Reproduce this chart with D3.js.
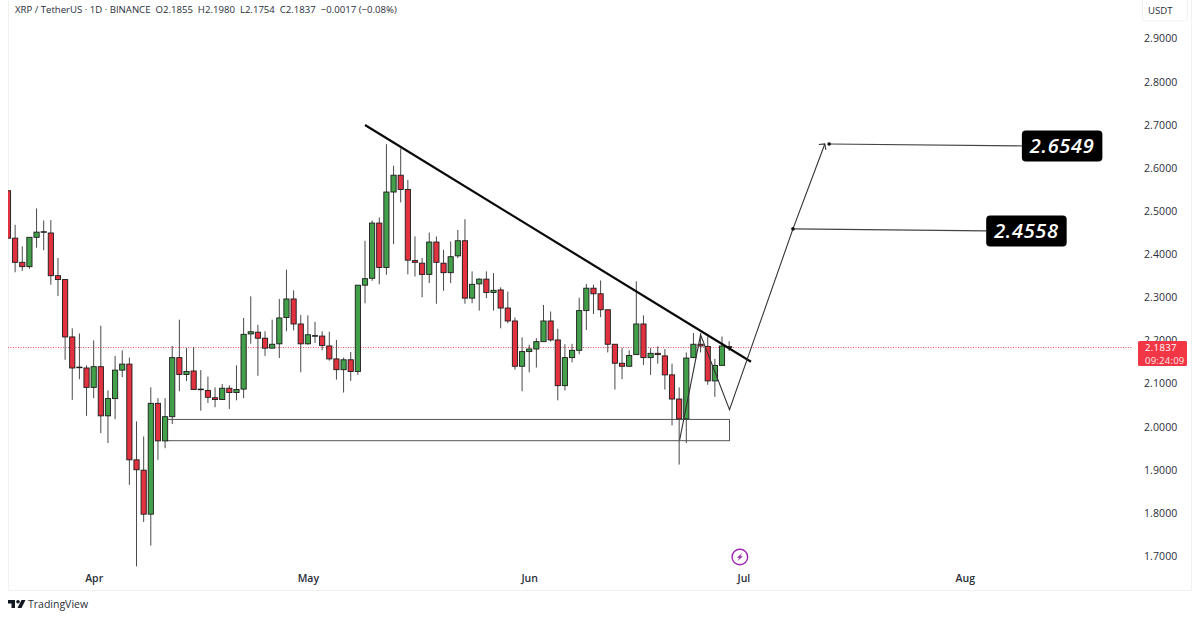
<!DOCTYPE html>
<html><head><meta charset="utf-8">
<script src="https://cdn.jsdelivr.net/npm/d3@7/dist/d3.min.js"></script>
<style>html,body{margin:0;padding:0;background:#fff}svg{display:block}text{font-family:"Open Sans",sans-serif}</style>
</head><body><svg id="c" width="1200" height="619"></svg>
<script>
const startDate = Date.UTC(2025,2,20);
const opens  = [2.547,2.437,2.381,2.371,2.439,2.451,2.449,2.350,2.341,2.208,2.138,2.136,2.091,2.139,2.025,2.065,2.131,2.145,1.923,1.899,1.797,2.054,1.967,2.023,2.160,2.121,2.129,2.086,2.084,2.067,2.063,2.089,2.079,2.087,2.215,2.219,2.205,2.182,2.192,2.253,2.296,2.238,2.192,2.211,2.210,2.187,2.157,2.132,2.155,2.128,2.328,2.344,2.472,2.369,2.544,2.583,2.550,2.385,2.379,2.353,2.428,2.379,2.357,2.396,2.431,2.298,2.331,2.342,2.311,2.317,2.275,2.245,2.140,2.174,2.180,2.197,2.245,2.201,2.095,2.160,2.177,2.269,2.321,2.308,2.271,2.191,2.147,2.140,2.167,2.238,2.160,2.170,2.164,2.120,2.064,2.018,2.160,2.191,2.186,2.106,2.142,2.1855];
const closes = [2.437,2.381,2.371,2.439,2.451,2.452,2.350,2.341,2.208,2.136,2.137,2.091,2.139,2.025,2.065,2.131,2.145,1.923,1.900,1.797,2.054,1.967,2.023,2.160,2.121,2.128,2.086,2.087,2.068,2.063,2.089,2.079,2.086,2.214,2.220,2.205,2.182,2.191,2.252,2.296,2.238,2.192,2.213,2.211,2.188,2.157,2.132,2.155,2.128,2.328,2.343,2.472,2.369,2.544,2.583,2.550,2.386,2.381,2.353,2.428,2.381,2.357,2.394,2.431,2.298,2.330,2.342,2.311,2.316,2.275,2.245,2.140,2.174,2.180,2.197,2.245,2.201,2.095,2.160,2.177,2.269,2.321,2.308,2.271,2.191,2.147,2.140,2.165,2.238,2.160,2.170,2.167,2.120,2.064,2.018,2.159,2.191,2.187,2.106,2.142,2.187,2.1837];
const highs  = [2.547,2.468,2.418,2.439,2.506,2.478,2.479,2.391,2.341,2.228,2.216,2.142,2.200,2.234,2.084,2.164,2.177,2.160,2.012,1.977,2.091,2.066,2.066,2.187,2.248,2.182,2.185,2.131,2.116,2.091,2.099,2.096,2.142,2.252,2.302,2.236,2.221,2.248,2.296,2.364,2.316,2.259,2.258,2.243,2.221,2.220,2.201,2.160,2.173,2.328,2.431,2.478,2.485,2.655,2.605,2.645,2.572,2.441,2.391,2.450,2.441,2.410,2.429,2.456,2.481,2.360,2.344,2.360,2.356,2.323,2.313,2.253,2.207,2.190,2.205,2.282,2.267,2.227,2.191,2.192,2.299,2.331,2.329,2.339,2.271,2.191,2.182,2.177,2.337,2.258,2.182,2.186,2.180,2.146,2.091,2.172,2.217,2.217,2.209,2.157,2.209,2.198];
const lows   = [2.437,2.358,2.361,2.366,2.415,2.409,2.329,2.303,2.155,2.062,2.110,2.025,2.066,1.985,1.962,2.017,2.115,1.865,1.676,1.779,1.724,1.923,1.950,2.006,2.082,2.106,2.086,2.037,2.055,2.045,2.062,2.041,2.061,2.066,2.192,2.118,2.164,2.182,2.159,2.221,2.223,2.126,2.190,2.194,2.177,2.153,2.109,2.079,2.106,2.120,2.286,2.338,2.330,2.352,2.423,2.520,2.353,2.348,2.300,2.333,2.285,2.315,2.333,2.391,2.285,2.286,2.269,2.298,2.269,2.228,2.240,2.132,2.082,2.126,2.137,2.197,2.197,2.061,2.084,2.149,2.168,2.224,2.261,2.254,2.172,2.086,2.110,2.140,2.167,2.143,2.120,2.146,2.086,2.003,1.912,1.962,2.159,2.172,2.097,2.069,2.142,2.1754];
const priceTicks = [1.7,1.8,1.9,2.0,2.1,2.2,2.3,2.4,2.5,2.6,2.7,2.8,2.9];
const monthLabels = ["Apr","May","Jun","Jul","Aug"];
const monthDates = [Date.UTC(2025,3,1),Date.UTC(2025,4,1),Date.UTC(2025,5,1),Date.UTC(2025,6,1),Date.UTC(2025,7,1)];
const headerText = "XRP / TetherUS · 1D · BINANCE  O2.1855  H2.1980  L2.1754  C2.1837  −0.0017 (−0.08%)";
const lastPrice = 2.1837, countdown = "09:24:09", currency = "USDT";
// drawings: [day index from startDate, price]
const trendLine = [[50.0,2.6995],[104.06,2.1503]];
const projection = [[94.07,1.9695],[97.0,2.2129],[101.05,2.0391],[109.94,2.4585],[114.4,2.6555]];
const zone = {from:22.2,to:101.05,top:2.0167,bottom:1.9674};
const targets = [
  {label:"2.6549",a:[115.0,2.6555],b:[142.0,2.6510]},
  {label:"2.4558",a:[109.94,2.4585],b:[137.0,2.4539]}
];
const day = i => new Date(startDate + i*864e5);

const svg = d3.select("#c");
const x = d3.scaleUtc().domain([day(0),day(134)]).range([8,8+7.14*134]);
const y = d3.scaleLinear().domain([1.7,2.9]).range([556,38.5]);
const px = p => x(day(p[0])), py = p => y(p[1]);

// frame
svg.append("path").attr("d","M8.5,0V590.5H1191.5V0").attr("fill","none").attr("stroke","#f0f1f3");
svg.append("defs").append("clipPath").attr("id","pl").append("rect").attr("x",8).attr("y",0).attr("width",1125).attr("height",590);
const plot = svg.append("g").attr("clip-path","url(#pl)");

// last price line
const lastY = Math.floor(y(lastPrice))+0.5;
plot.append("line").attr("x1",8).attr("x2",1138).attr("y1",lastY).attr("y2",lastY)
  .attr("stroke","#f0505f").attr("stroke-width",1).attr("stroke-dasharray","1 1.5");

// zone (under candles)
plot.append("rect").attr("x",x(day(zone.from))).attr("y",y(zone.top))
  .attr("width",x(day(zone.to))-x(day(zone.from))).attr("height",y(zone.bottom)-y(zone.top))
  .attr("fill","#fff").attr("stroke","#555").attr("stroke-width",1);

// candles
const idx = d3.range(opens.length);
const up = i => closes[i] >= opens[i];
plot.append("g").selectAll("line").data(idx).join("line")
  .attr("x1",i=>x(day(i))).attr("x2",i=>x(day(i)))
  .attr("y1",i=>y(highs[i])).attr("y2",i=>y(lows[i]))
  .attr("stroke","#4a4a4a").attr("stroke-width",1);
plot.append("g").selectAll("rect").data(idx).join("rect")
  .attr("x",i=>x(day(i))-2.6).attr("width",5.2)
  .attr("y",i=>y(Math.max(opens[i],closes[i])))
  .attr("height",i=>Math.max(0.6,Math.abs(y(opens[i])-y(closes[i]))))
  .attr("fill",i=>up(i)?"#43a04a":"#e2313f")
  .attr("stroke","#1c1c1c").attr("stroke-width",0.9);

// trend line
const ln = d3.line().x(px).y(py);
plot.append("path").attr("d",ln(trendLine)).attr("fill","none").attr("stroke","#0a0a0a").attr("stroke-width",2.2);
// projection
plot.append("path").attr("d",ln(projection)).attr("fill","none").attr("stroke","#333").attr("stroke-width",1.1);
const tip = projection[projection.length-1], tx=px(tip), ty=py(tip);
plot.append("path").attr("d",`M${tx-6},${ty+0.5}L${tx},${ty}L${tx+1},${ty+6}`).attr("fill","none").attr("stroke","#333").attr("stroke-width",1.1);

// targets
const tg = plot.append("g").selectAll("g").data(targets).join("g");
tg.append("line").attr("x1",d=>px(d.a)).attr("y1",d=>py(d.a)).attr("x2",d=>px(d.b)).attr("y2",d=>py(d.b))
  .attr("stroke","#444").attr("stroke-width",1.1);
tg.append("circle").attr("cx",d=>px(d.a)).attr("cy",d=>py(d.a)).attr("r",1.8).attr("fill","#111");
tg.append("rect").attr("x",d=>px(d.b)).attr("y",d=>py(d.b)-15.5).attr("width",80.5).attr("height",31).attr("rx",4).attr("fill","#000");
tg.append("text").attr("x",d=>px(d.b)+40.3).attr("y",d=>py(d.b)+7.5).attr("text-anchor","middle")
  .attr("fill","#fff").attr("font-size",20).attr("font-weight",600).attr("font-style","italic").attr("letter-spacing",0.7).text(d=>d.label);

// price axis
const ya = svg.append("g").attr("transform","translate(1144,0)")
  .call(d3.axisRight(y).tickValues(priceTicks).tickFormat(d3.format(".4f")).tickSize(0).tickPadding(0));
ya.select(".domain").remove();
ya.selectAll("text").style("font-family",'"Open Sans",sans-serif').attr("font-size",10.5).attr("fill","#2a2e39").attr("letter-spacing",0.1);

// time axis
const xa = svg.append("g").attr("transform","translate(0,575)")
  .call(d3.axisBottom(x).tickValues(monthDates).tickFormat((d,i)=>monthLabels[i]).tickSize(0).tickPadding(0));
xa.select(".domain").remove();
xa.selectAll("text").style("font-family",'"Open Sans",sans-serif').attr("font-size",10.5).attr("font-weight",600).attr("fill","#2a2e39");

// price tag
svg.append("rect").attr("x",1138).attr("y",341).attr("width",49).attr("height",25).attr("rx",1.5).attr("fill","#f23645");
svg.append("text").attr("x",1145).attr("y",351).attr("font-size",9.6).attr("fill","#fff").attr("letter-spacing",0.3).text(d3.format(".4f")(lastPrice));
svg.append("text").attr("x",1145).attr("y",363.5).attr("font-size",9.6).attr("fill","#ffe3e6").attr("letter-spacing",0.2).text(countdown);

// currency box
svg.append("rect").attr("x",1142.5).attr("y",-3).attr("width",45).attr("height",24).attr("rx",3).attr("fill","#fff").attr("stroke","#eef0f3");
svg.append("text").attr("x",1148).attr("y",14).attr("font-size",9.6).attr("font-weight",500).attr("fill","#2a2e39").text(currency);

// header
svg.append("text").attr("x",15).attr("y",13).attr("font-size",9.6).attr("fill","#2a2e39").attr("xml:space","preserve").style("white-space","pre").text(headerText);

// bolt icon
const bolt = svg.append("g").attr("transform",`translate(${x(day(102.5))},557)`);
bolt.append("circle").attr("r",7.8).attr("fill","#fff").attr("stroke","#9c27b0").attr("stroke-width",1.4);
bolt.append("path").attr("d","M2.6,-4.2L-3,0.8H-0.4L-2.4,4.2L3,-0.8H0.4Z").attr("fill","#9c27b0");

// logo
const logo = svg.append("g").attr("transform","translate(8,600)").attr("fill","#131722");
logo.append("path").attr("d","M0,0H7V8H3.5V3.5H0ZM13.5,0H17.5L13.5,8H9.5Z");
logo.append("circle").attr("cx",10).attr("cy",1.8).attr("r",1.8);
svg.append("text").attr("x",28).attr("y",608).attr("font-size",10.5).attr("fill","#2a2e39").text("TradingView");
</script></body></html>
